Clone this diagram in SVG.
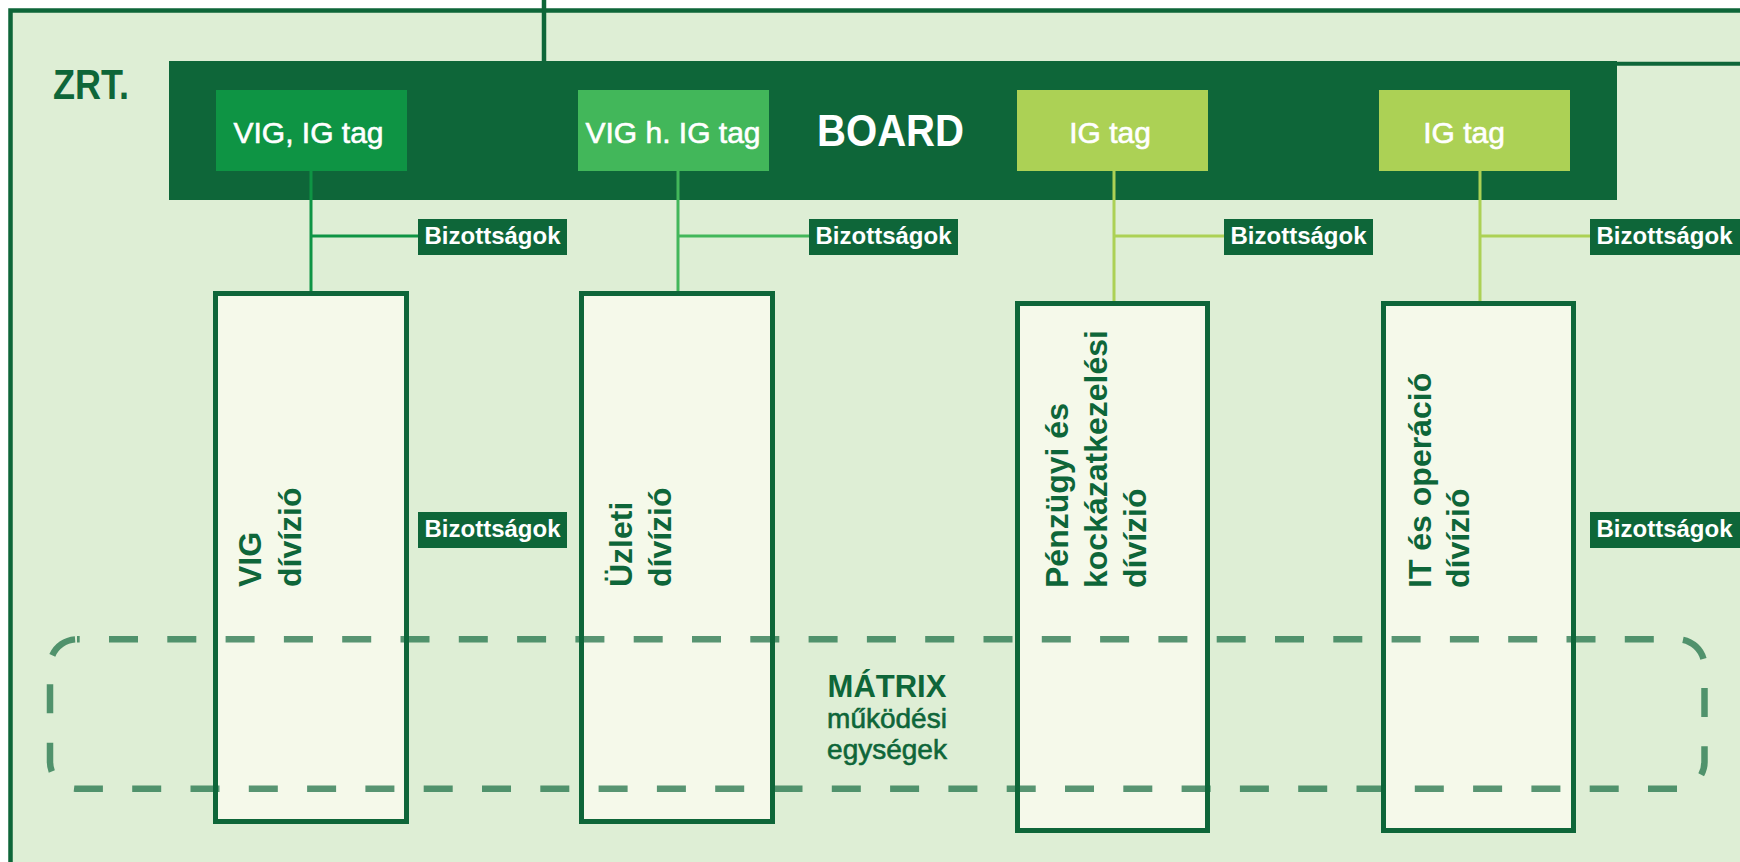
<svg xmlns="http://www.w3.org/2000/svg" width="1740" height="862" viewBox="0 0 1740 862">
<style>
text{font-family:"Liberation Sans",Arial,sans-serif}
.top{fill:#ffffff;stroke:#ffffff;stroke-width:0.6;font-size:30px;text-anchor:middle}
.biz rect{fill:#0e6639}
.biz text{fill:#ffffff;font-size:24px;font-weight:bold;text-anchor:middle}
.div rect{fill:#f5f9ea;stroke:#0e6639;stroke-width:5}
.div text{fill:#0e6639;font-size:32px;font-weight:bold}
.sub{fill:#0e6639;stroke:#0e6639;stroke-width:0.6;font-size:28px;text-anchor:middle}
.c1{stroke:#0e9444}
.c2{stroke:#42b75a}
.c3{stroke:#acd155}
#connectors line{stroke-width:3;fill:none}
</style>
<rect x="0" y="0" width="1740" height="862" fill="#ffffff"/>
<rect id="zrt-frame" x="10.5" y="10.5" width="1760" height="900" fill="#deeed5" stroke="#0e6639" stroke-width="4.5"/>
<line x1="544" y1="0" x2="544" y2="62" stroke="#0e6639" stroke-width="4.5"/>
<line x1="1615" y1="63.7" x2="1740" y2="63.7" stroke="#0e6639" stroke-width="4"/>
<text id="zrt-label" x="53" y="99" font-size="42" font-weight="bold" fill="#0e6639" textLength="76" lengthAdjust="spacingAndGlyphs">ZRT.</text>

<g id="board">
<rect x="169" y="61" width="1448" height="139" fill="#0e6639"/>
<text x="890.5" y="146" font-size="44" font-weight="bold" fill="#ffffff" text-anchor="middle" textLength="147" lengthAdjust="spacingAndGlyphs">BOARD</text>
</g>
<g id="member-vig-ig">
<rect x="216" y="90" width="191" height="81" fill="#0e9444"/>
<text class="top" x="308.5" y="143">VIG, IG tag</text>
</g>
<g id="member-vig-h-ig">
<rect x="578" y="90" width="191" height="81" fill="#42b75a"/>
<text class="top" x="673" y="143">VIG h. IG tag</text>
</g>
<g id="member-ig-1">
<rect x="1017" y="90" width="191" height="81" fill="#acd155"/>
<text class="top" x="1110" y="143">IG tag</text>
</g>
<g id="member-ig-2">
<rect x="1379" y="90" width="191" height="81" fill="#acd155"/>
<text class="top" x="1464" y="143">IG tag</text>
</g>

<g id="connectors">
<line class="c1" x1="311" y1="171" x2="311" y2="292"/>
<line class="c1" x1="311" y1="236" x2="419" y2="236"/>
<line class="c2" x1="678" y1="171" x2="678" y2="292"/>
<line class="c2" x1="678" y1="236" x2="810" y2="236"/>
<line class="c3" x1="1114" y1="171" x2="1114" y2="302"/>
<line class="c3" x1="1114" y1="236" x2="1225" y2="236"/>
<line class="c3" x1="1480" y1="171" x2="1480" y2="302"/>
<line class="c3" x1="1480" y1="236" x2="1591" y2="236"/>
</g>

<g id="biz-1" class="biz"><rect x="418" y="219" width="149" height="36"/><text x="492.5" y="243.5">Bizottságok</text></g>
<g id="biz-2" class="biz"><rect x="809" y="219" width="149" height="36"/><text x="883.5" y="243.5">Bizottságok</text></g>
<g id="biz-3" class="biz"><rect x="1224" y="219" width="149" height="36"/><text x="1298.5" y="243.5">Bizottságok</text></g>
<g id="biz-4" class="biz"><rect x="1590" y="219" width="150" height="36"/><text x="1664.5" y="243.5">Bizottságok</text></g>
<g id="biz-5" class="biz"><rect x="418" y="512" width="149" height="36"/><text x="492.5" y="536.5">Bizottságok</text></g>
<g id="biz-6" class="biz"><rect x="1590" y="512" width="150" height="36"/><text x="1664.5" y="536.5">Bizottságok</text></g>

<g id="div-vig" class="div">
<rect x="215.5" y="293.5" width="191" height="528"/>
<text transform="translate(261,587) rotate(-90)"><tspan x="0" y="0">VIG</tspan><tspan x="0" dy="40">dívízió</tspan></text>
</g>
<g id="div-uzleti" class="div">
<rect x="581.5" y="293.5" width="191" height="528"/>
<text transform="translate(632,587) rotate(-90)"><tspan x="0" y="0">Üzleti</tspan><tspan x="0" dy="39">dívízió</tspan></text>
</g>
<g id="div-penzugyi" class="div">
<rect x="1017.5" y="303.5" width="190" height="527"/>
<text transform="translate(1068,588) rotate(-90)"><tspan x="0" y="0">Pénzügyi és</tspan><tspan x="0" dy="39">kockázatkezelési</tspan><tspan x="0" dy="39">dívízió</tspan></text>
</g>
<g id="div-it" class="div">
<rect x="1383.5" y="303.5" width="190" height="527"/>
<text transform="translate(1431,588) rotate(-90)"><tspan x="0" y="0">IT és operáció</tspan><tspan x="0" dy="38">dívízió</tspan></text>
</g>

<g id="matrix">
<rect x="50" y="639.3" width="1654.5" height="149.5" rx="27" ry="27" fill="none" stroke="#0e6639" stroke-opacity="0.68" stroke-width="6.5" stroke-dasharray="29 29.3" stroke-dashoffset="26.3"/>
<text x="887" y="697" font-size="31" font-weight="bold" fill="#0e6639" text-anchor="middle">MÁTRIX</text>
<text class="sub" x="887" y="728">működési</text>
<text class="sub" x="887" y="759">egységek</text>
</g>
</svg>
